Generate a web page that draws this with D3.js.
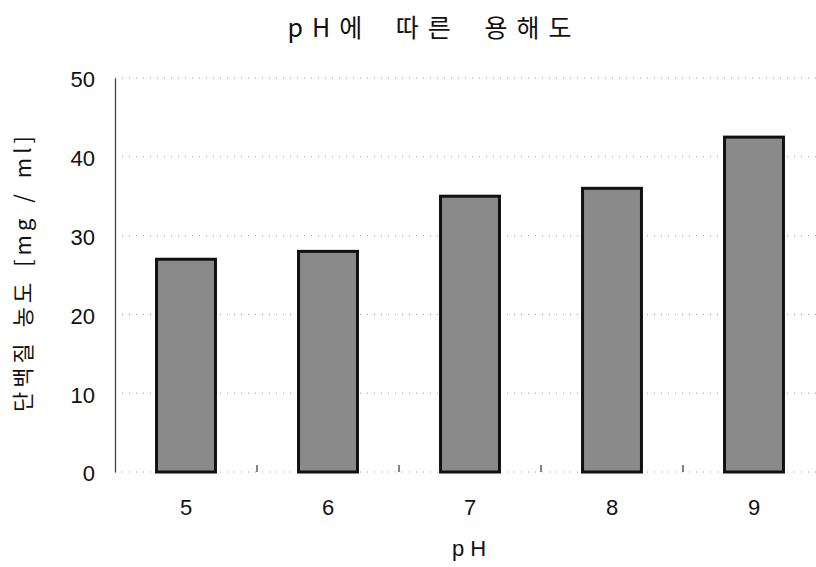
<!DOCTYPE html>
<html><head><meta charset="utf-8">
<script src="https://cdn.jsdelivr.net/npm/d3@7"></script>
<style>body{margin:0;background:#fff}</style>
</head><body>
<script>
const categories = ["5","6","7","8","9"];
const values = [27, 28, 35, 36, 42.5];
const yTicks = [0,10,20,30,40,50];
const titleText = "pH에 따른 용해도";
const xTitle = "pH";
const yTitle = "단백질 농도 [mg / ml]";

const W=816,H=567;
const svg=d3.select("body").append("svg").attr("width",W).attr("height",H);
const defs=svg.append("defs");
const f=defs.append("filter").attr("id","grain").attr("x",0).attr("y",0).attr("width",1).attr("height",1)
 .attr("color-interpolation-filters","sRGB");
f.append("feTurbulence").attr("type","fractalNoise").attr("baseFrequency","1.0").attr("numOctaves",3).attr("seed",4).attr("result","t");
f.append("feColorMatrix").attr("in","t").attr("type","matrix")
 .attr("values","0.5 0.5 0 0 0  0.5 0.5 0 0 0  0.5 0.5 0 0 0  0 0 0 0 1").attr("result","g");
const ct=f.append("feComponentTransfer").attr("in","g").attr("result","c");
["feFuncR","feFuncG","feFuncB"].forEach(k=>ct.append(k).attr("type","linear").attr("slope",1.8).attr("intercept",-0.36));
f.append("feComposite").attr("in","c").attr("in2","SourceGraphic").attr("operator","in");

const x=d3.scaleBand().domain(categories).range([115,825]).paddingInner(0.585).paddingOuter(0.2925);
const y=d3.scaleLinear().domain([0,50]).range([472,78]);

// gridlines
svg.append("g").selectAll("line").data(yTicks).join("line")
 .attr("x1",115).attr("x2",W).attr("y1",d=>y(d)).attr("y2",d=>y(d))
 .attr("stroke","#9a9a9a").attr("stroke-width",1).attr("stroke-dasharray","1,6");

// y axis
const ya=svg.append("g").attr("transform","translate(115,0)").call(d3.axisLeft(y).tickValues(yTicks).tickSize(0).tickPadding(20));
ya.select(".domain").attr("stroke","#444").attr("stroke-width",1.3);
ya.selectAll("text").attr("font-family","Liberation Sans, Arial, sans-serif").attr("font-size",22).attr("fill","#111").attr("dy","0.4em");

// x axis ticks at category boundaries
const gap=(x.step()-x.bandwidth())/2;
svg.append("g").selectAll("line").data(categories.slice(1)).join("line")
 .attr("x1",d=>x(d)-gap).attr("x2",d=>x(d)-gap)
 .attr("y1",465).attr("y2",472).attr("stroke","#333").attr("stroke-width",1.2);
const xa=svg.append("g").attr("transform","translate(0,472)").call(d3.axisBottom(x).tickSize(0).tickPadding(27));
xa.select(".domain").remove();
xa.selectAll("text").attr("font-family","Liberation Sans, Arial, sans-serif").attr("font-size",22).attr("fill","#111");

// bars
const bars=svg.append("g");
bars.selectAll("rect.f").data(values).join("rect").attr("class","f")
 .attr("x",(d,i)=>x(categories[i])).attr("width",x.bandwidth())
 .attr("y",d=>y(d)).attr("height",d=>y(0)-y(d))
 .attr("fill","#8a8a8a").attr("filter","url(#grain)");
bars.selectAll("rect.s").data(values).join("rect").attr("class","s")
 .attr("x",(d,i)=>x(categories[i])).attr("width",x.bandwidth())
 .attr("y",d=>y(d)).attr("height",d=>y(0)-y(d))
 .attr("fill","none").attr("stroke","#111").attr("stroke-width",3);

// titles
svg.append("text").attr("x",434).attr("y",37).attr("text-anchor","middle")
 .attr("font-family","Noto Sans CJK KR, sans-serif").attr("font-size",25).attr("fill","#111")
 .attr("letter-spacing","9px").attr("word-spacing","10px").text(titleText);
svg.append("text").attr("x",472).attr("y",556).attr("text-anchor","middle")
 .attr("font-family","Liberation Sans, Arial, sans-serif").attr("font-size",22).attr("fill","#111")
 .attr("letter-spacing","6px").text(xTitle);
svg.append("text").attr("transform","translate(31,272) rotate(-90)").attr("text-anchor","middle")
 .attr("font-family","Noto Sans CJK KR, sans-serif").attr("font-size",22).attr("fill","#111")
 .attr("letter-spacing","4px").attr("word-spacing","3px").text(yTitle);
</script>
</body></html>
